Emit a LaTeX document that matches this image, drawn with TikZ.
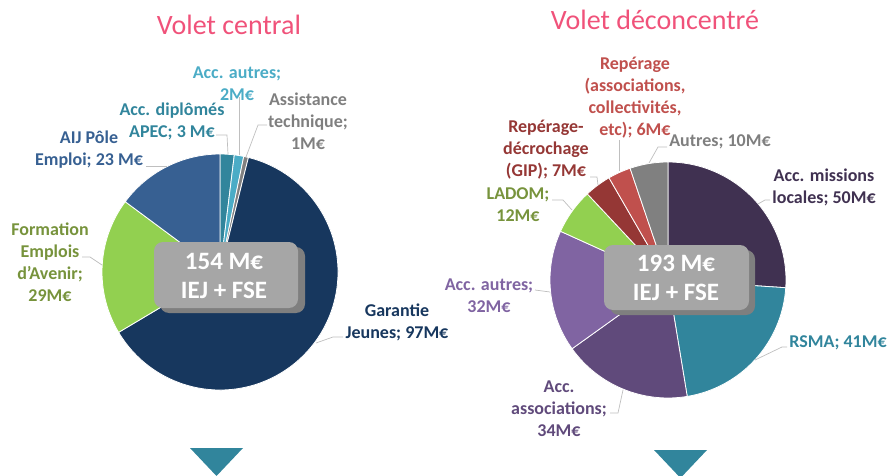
\documentclass[tikz,border=0pt]{standalone}
\usepackage{fontspec}
\setmainfont{Carlito}
\definecolor{cNavy}{HTML}{17375E}
\definecolor{cBlue}{HTML}{376092}
\definecolor{cTeal}{HTML}{31859C}
\definecolor{cLight}{HTML}{4BACC6}
\definecolor{cGray}{HTML}{808080}
\definecolor{cGreen}{HTML}{92D050}
\definecolor{cOlive}{HTML}{77933C}
\definecolor{cML}{HTML}{403151}
\definecolor{cAssoc}{HTML}{604A7B}
\definecolor{cLav}{HTML}{8064A2}
\definecolor{cDRed}{HTML}{953735}
\definecolor{cRed}{HTML}{C0504D}
\definecolor{cBox}{HTML}{A6A6A6}
\definecolor{cShadow}{HTML}{7F7F7F}
\definecolor{cLeader}{HTML}{BFBFBF}
\definecolor{cPink}{RGB}{240,82,122}
\newcommand\pieslice[4]{\fill[#4, draw=white, line width=0.8pt] (#1) -- ++(#2:118) arc[start angle=#2, end angle=#3, radius=118] -- cycle;}
\tikzset{
  lbl/.style={align=center, inner sep=0pt, font=\bfseries\fontsize{18}{22}\selectfont},
  ttl/.style={inner sep=0pt, text=cPink, font=\fontsize{28}{32}\selectfont},
  leader/.style={draw=cLeader, line width=0.7pt},
  boxtxt/.style={align=center, inner sep=0pt, text=white, font=\bfseries\fontsize{25}{29}\selectfont},
  tri/.style={fill=cTeal}
}
\begin{document}
\begin{tikzpicture}[x=1pt,y=1pt]
\useasboundingbox (0,0) rectangle (889,-476);
% titles
\node[ttl] (t1) at (229,-25) {Volet central};
\node[ttl] (t2) at (655,-20) {Volet déconcentré};
% left pie
\coordinate (L) at (220,-272);
\pieslice{L}{90}{83.032}{cTeal}
\pieslice{L}{83.032}{78.387}{cLight}
\pieslice{L}{78.387}{76.065}{cGray}
\pieslice{L}{76.065}{-149.226}{cNavy}
\pieslice{L}{-149.226}{-216.58}{cGreen}
\pieslice{L}{-216.58}{-270}{cBlue}
% right pie
\coordinate (R) at (668,-280);
\pieslice{R}{90}{-3.75}{cML}
\pieslice{R}{-3.75}{-80.625}{cTeal}
\pieslice{R}{-80.625}{-144.375}{cAssoc}
\pieslice{R}{-144.375}{-204.375}{cLav}
\pieslice{R}{-204.375}{-226.875}{cGreen}
\pieslice{R}{-226.875}{-240}{cDRed}
\pieslice{R}{-240}{-251.25}{cRed}
\pieslice{R}{-251.25}{-270}{cGray}
% center boxes
\fill[cShadow, rounded corners=9pt] (160,-247) rectangle (305,-313);
\fill[cBox, rounded corners=9pt] (154,-242) rectangle (298,-308);
\node[boxtxt] (b1) at (224,-276) {154 M€\\IEJ + FSE};
\fill[cShadow, rounded corners=9pt] (610,-250) rectangle (755,-315);
\fill[cBox, rounded corners=9pt] (604,-245) rectangle (749,-310);
\node[boxtxt] (b2) at (676,-278) {193 M€\\IEJ + FSE};
% left labels
\node[lbl, text=cLight] (lAutres) at (237,-84) {Acc. autres;\\2M€};
\node[lbl, text=cTeal] (lApec) at (172,-121) {Acc. diplômés\\APEC; 3 M€};
\node[lbl, text=cBlue] (lAij) at (89,-150) {AIJ Pôle\\Emploi; 23 M€};
\node[lbl, text=cShadow] (lAT) at (308,-121) {Assistance\\technique;\\1M€};
\node[lbl, text=cOlive] (lForm) at (50,-262) {Formation\\Emplois\\d'Avenir;\\29M€};
\node[lbl, text=cNavy] (lGJ) at (397,-322) {Garantie\\Jeunes; 97M€};
% left leaders
\coordinate (a1) at (239,-97);  \coordinate (a2) at (239,-155);
\draw[leader] (a1) -- (a2);
\coordinate (p1) at (216,-135); \coordinate (p2) at (227,-135); \coordinate (p3) at (228,-154);
\draw[leader] (p1) -- (p2) -- (p3);
\coordinate (s1) at (267,-125); \coordinate (s2) at (258,-125); \coordinate (s3) at (246,-157);
\draw[leader] (s1) -- (s2) -- (s3);
\coordinate (j1) at (146,-166); \coordinate (j2) at (167,-166);
\draw[leader] (j1) -- (j2);
\coordinate (f1) at (82,-257); \coordinate (f2) at (90,-257); \coordinate (f3) at (102,-265);
\draw[leader] (f1) -- (f2) -- (f3);
\coordinate (g1) at (343,-337); \coordinate (g2) at (333,-337); \coordinate (g3) at (316,-343);
\draw[leader] (g1) -- (g2) -- (g3);
% right labels
\node[lbl, text=cRed] (rRA) at (635,-98) {Repérage\\(associations,\\collectivités,\\etc); 6M€};
\node[lbl, text=cDRed] (rRD) at (546,-150) {Repérage-\\décrochage\\(GIP); 7M€};
\node[lbl, text=cShadow] (rAu) at (720,-142) {Autres; 10M€};
\node[lbl, text=cML] (rML) at (824,-187) {Acc. missions\\locales; 50M€};
\node[lbl, text=cOlive] (rLD) at (518,-205) {LADOM;\\12M€};
\node[lbl, text=cLav] (rAA) at (489,-296) {Acc. autres;\\32M€};
\node[lbl, text=cAssoc] (rAs) at (559,-409) {Acc.\\associations;\\34M€};
\node[lbl, text=cTeal] (rRS) at (838,-343) {RSMA; 41M€};
% right leaders
\coordinate (q1) at (619,-140); \coordinate (q2) at (619,-171);
\draw[leader] (q1) -- (q2);
\coordinate (d1) at (590,-177); \coordinate (d2) at (597,-177); \coordinate (d3) at (598,-185);
\draw[leader] (d1) -- (d2) -- (d3);
\coordinate (u1) at (667,-147); \coordinate (u2) at (658,-147); \coordinate (u3) at (649,-163);
\draw[leader] (u1) -- (u2) -- (u3);
\coordinate (m1) at (770,-200); \coordinate (m2) at (765,-200); \coordinate (m3) at (758,-204);
\draw[leader] (m1) -- (m2) -- (m3);
\coordinate (o1) at (552,-200); \coordinate (o2) at (563,-200); \coordinate (o3) at (572,-210);
\draw[leader] (o1) -- (o2) -- (o3);
\coordinate (v1) at (535,-290); \coordinate (v2) at (550,-292);
\draw[leader] (v1) -- (v2);
\coordinate (w1) at (610,-413); \coordinate (w2) at (618,-413); \coordinate (w3) at (623,-390);
\draw[leader] (w1) -- (w2) -- (w3);
\coordinate (x1) at (787,-347); \coordinate (x2) at (782,-347); \coordinate (x3) at (755,-360);
\draw[leader] (x1) -- (x2) -- (x3);
% triangles
\fill[tri] (190,-448) -- (243,-448) -- (216.5,-476) -- cycle;
\fill[tri] (654,-450) -- (707,-450) -- (680.5,-478) -- cycle;
\end{tikzpicture}
\end{document}
